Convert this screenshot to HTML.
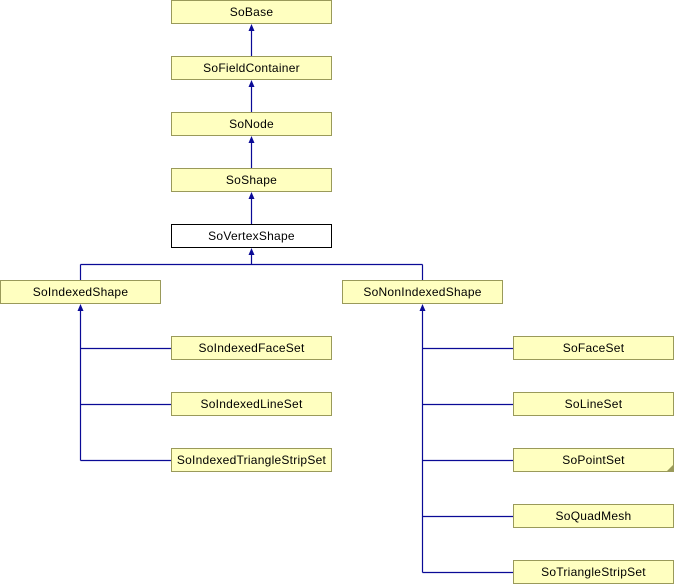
<!DOCTYPE html>
<html><head><meta charset="utf-8"><style>
html,body{margin:0;padding:0;background:#fff;width:674px;height:584px;overflow:hidden}
svg{display:block}
text{font-family:"Liberation Sans",Arial,sans-serif;font-size:12px;letter-spacing:0.25px;fill:#000;text-anchor:middle}
.b{fill:#ffffc0;stroke:#9a9a5a;stroke-width:1}
.w{fill:#fff;stroke:#000;stroke-width:1}
.l{stroke:#0a0a96;stroke-width:1.2;fill:none}
.a{fill:#0a0a96}
</style></head><body>
<svg width="674" height="584" viewBox="0 0 674 584" xmlns="http://www.w3.org/2000/svg">
<!-- connectors -->
<g class="l">
<path d="M251.5 30V56M251.5 86V112M251.5 142V168M251.5 198V224M251.5 254V264.5"/>
<path d="M80.5 264.5H422.5M80.5 264.5V280M422.5 264.5V280"/>
<path d="M80.5 310V460.5M80.5 348.5H171M80.5 404.5H171M80.5 460.5H171"/>
<path d="M422.5 310V572.5M422.5 348.5H513M422.5 404.5H513M422.5 460.5H513M422.5 516.5H513M422.5 572.5H513"/>
</g>
<g class="a">
<path d="M251.5 24L248.5 31H254.5Z"/>
<path d="M251.5 80L248.5 87H254.5Z"/>
<path d="M251.5 136L248.5 143H254.5Z"/>
<path d="M251.5 192L248.5 199H254.5Z"/>
<path d="M251.5 248L248.5 255H254.5Z"/>
<path d="M80.5 304L77.5 311H83.5Z"/>
<path d="M422.5 304L419.5 311H425.5Z"/>
</g>
<!-- boxes -->
<rect class="b" x="171.5" y="0.5" width="160" height="23"/><text x="251.5" y="16">SoBase</text>
<rect class="b" x="171.5" y="56.5" width="160" height="23"/><text x="251.5" y="72">SoFieldContainer</text>
<rect class="b" x="171.5" y="112.5" width="160" height="23"/><text x="251.5" y="128">SoNode</text>
<rect class="b" x="171.5" y="168.5" width="160" height="23"/><text x="251.5" y="184">SoShape</text>
<rect class="w" x="171.5" y="224.5" width="160" height="23"/><text x="251.5" y="240">SoVertexShape</text>
<rect class="b" x="0.5" y="280.5" width="160" height="23"/><text x="80.5" y="296">SoIndexedShape</text>
<rect class="b" x="342.5" y="280.5" width="160" height="23"/><text x="422.5" y="296">SoNonIndexedShape</text>
<rect class="b" x="171.5" y="336.5" width="160" height="23"/><text x="251.5" y="352">SoIndexedFaceSet</text>
<rect class="b" x="171.5" y="392.5" width="160" height="23"/><text x="251.5" y="408">SoIndexedLineSet</text>
<rect class="b" x="171.5" y="448.5" width="160" height="23"/><text x="251.5" y="464">SoIndexedTriangleStripSet</text>
<rect class="b" x="513.5" y="336.5" width="160" height="23"/><text x="593.5" y="352">SoFaceSet</text>
<rect class="b" x="513.5" y="392.5" width="160" height="23"/><text x="593.5" y="408">SoLineSet</text>
<rect class="b" x="513.5" y="448.5" width="160" height="23"/><text x="593.5" y="464">SoPointSet</text>
<path d="M673 465L667 471H673Z" fill="#9a9a5a"/>
<rect class="b" x="513.5" y="504.5" width="160" height="23"/><text x="593.5" y="520">SoQuadMesh</text>
<rect class="b" x="513.5" y="560.5" width="160" height="23"/><text x="593.5" y="576">SoTriangleStripSet</text>
</svg>
</body></html>
